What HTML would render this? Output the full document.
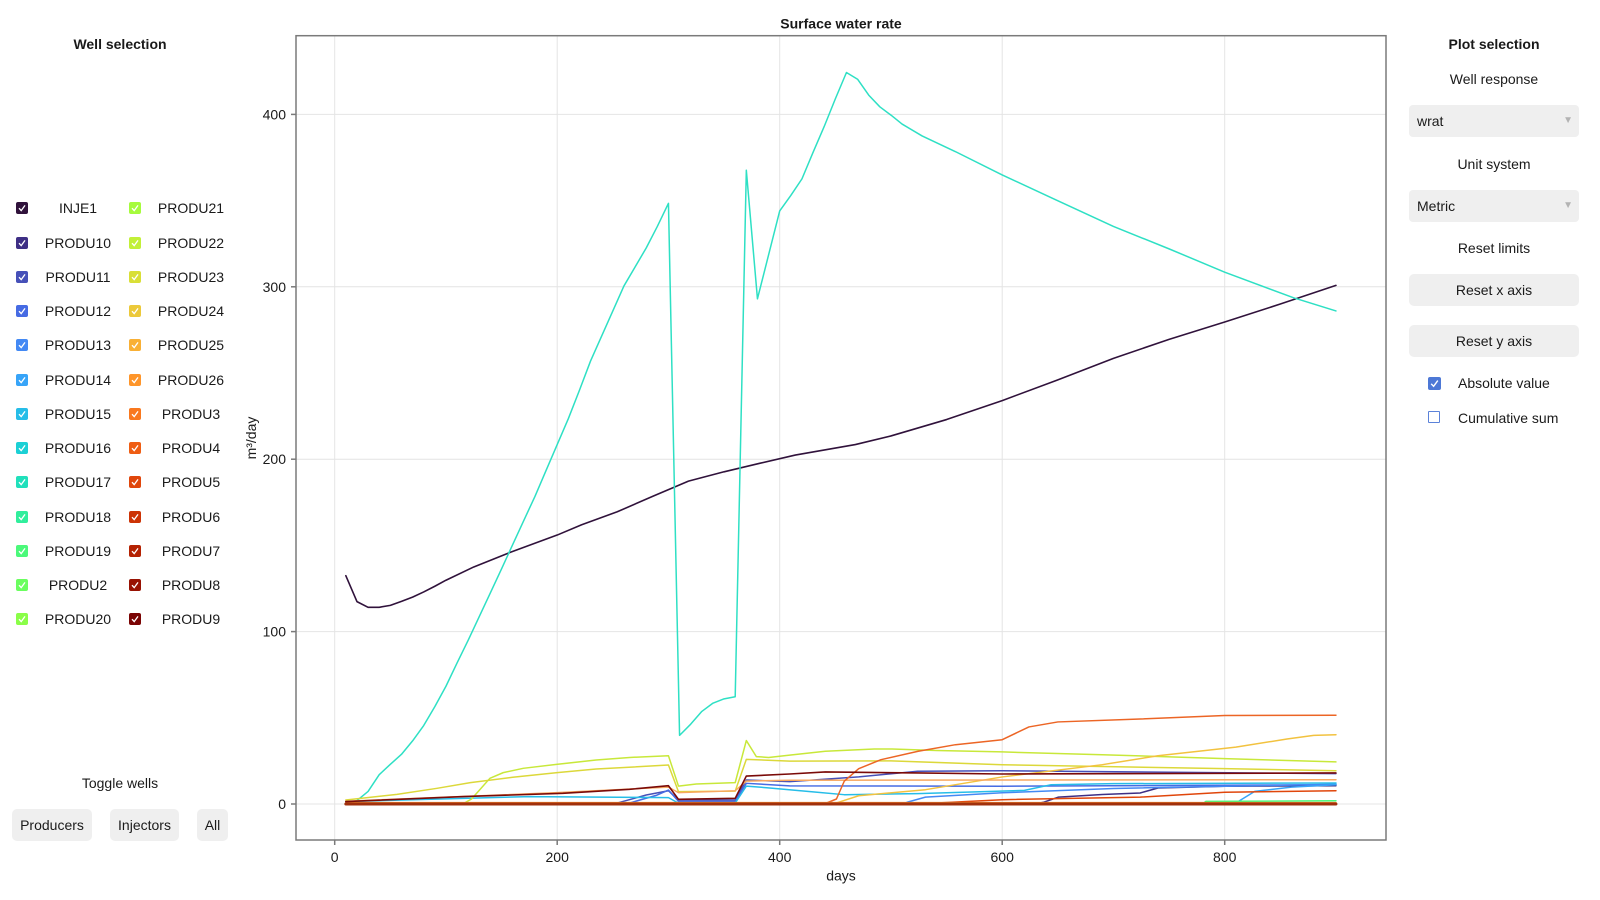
<!DOCTYPE html>
<html><head><meta charset="utf-8">
<style>
html,body{margin:0;padding:0;background:#fff;}
body{width:1600px;height:900px;position:relative;overflow:hidden;font-family:"Liberation Sans",Arial,sans-serif;color:#1a1a1a;}
.t{position:absolute;font-size:14px;line-height:16px;height:16px;white-space:nowrap;}
.b{font-weight:bold;}
.row{position:absolute;left:0;width:240px;height:16px;}
.cb{position:absolute;top:2px;width:12px;height:12px;border-radius:2px;}
.cb svg{position:absolute;left:0;top:0;}
.c1{left:16px;}.c2{left:129px;}
.lab{position:absolute;top:0;width:76px;text-align:center;font-size:14px;line-height:16px;}
.l1{left:40px;}.l2{left:153px;}
.btn{position:absolute;background:#efefef;border-radius:5px;font-size:14px;text-align:center;line-height:32px;height:32px;}
.dd{position:absolute;background:#efefef;border-radius:4px;font-size:14px;line-height:32px;height:32px;}
.arr{position:absolute;right:6px;top:0;color:#b3b3b3;font-size:10px;}
</style></head><body>

<svg width="1600" height="900" style="position:absolute;left:0;top:0" xmlns="http://www.w3.org/2000/svg">
 <g stroke="#e4e4e4" stroke-width="1">
  <line x1="334.7" y1="36" x2="334.7" y2="840"/>
  <line x1="557.2" y1="36" x2="557.2" y2="840"/>
  <line x1="779.7" y1="36" x2="779.7" y2="840"/>
  <line x1="1002.2" y1="36" x2="1002.2" y2="840"/>
  <line x1="1224.7" y1="36" x2="1224.7" y2="840"/>
  <line x1="296" y1="804" x2="1386" y2="804"/>
  <line x1="296" y1="631.6" x2="1386" y2="631.6"/>
  <line x1="296" y1="459.2" x2="1386" y2="459.2"/>
  <line x1="296" y1="286.8" x2="1386" y2="286.8"/>
  <line x1="296" y1="114.4" x2="1386" y2="114.4"/>
 </g>
 <g stroke="#7a7a7a" stroke-width="1.5">
  <line x1="291" y1="804" x2="296" y2="804"/>
  <line x1="291" y1="631.6" x2="296" y2="631.6"/>
  <line x1="291" y1="459.2" x2="296" y2="459.2"/>
  <line x1="291" y1="286.8" x2="296" y2="286.8"/>
  <line x1="291" y1="114.4" x2="296" y2="114.4"/>
  <line x1="334.7" y1="840" x2="334.7" y2="845"/>
  <line x1="557.2" y1="840" x2="557.2" y2="845"/>
  <line x1="779.7" y1="840" x2="779.7" y2="845"/>
  <line x1="1002.2" y1="840" x2="1002.2" y2="845"/>
  <line x1="1224.7" y1="840" x2="1224.7" y2="845"/>
 </g>

 <g transform="matrix(1.1125 0 0 -1.724 334.7 804)" fill="none" stroke-linejoin="round" stroke-linecap="round">
  <polyline vector-effect="non-scaling-stroke" stroke="#30123b" stroke-width="1.6" points="10,132.4 20,117.4 30,114.1 40,114.1 50,115.2 60,117.5 70,120 80,123 90,126.3 100,129.8 125,137.5 158,146 200,156 222,162 254,169.5 286,178.5 318,187.3 350,192.7 382,197.6 414,202.4 468,208.5 500,213.5 550,223 600,234 650,246 700,258.5 750,269.5 800,279.6 850,290 900,300.8"/>
  <polyline vector-effect="non-scaling-stroke" stroke="#3e2f85" stroke-width="1.5" points="10,0 630,0 637,1 650.6,4 690,5.5 724,6.4 740,9.3 800,10.3 900,10.6"/>
  <polyline vector-effect="non-scaling-stroke" stroke="#4650b8" stroke-width="1.5" points="10,0 250,0 253,0.4 280,5.2 300,7.7 309,2.3 360,2.3 370,13.9 409,13 471,15.7 524,19 600,19.3 900,17.6"/>
  <polyline vector-effect="non-scaling-stroke" stroke="#466be3" stroke-width="1.5" points="10,0 262,0 289,5 300,8.1 309,1.5 360,1.5 370,12 409,10.5 600,10.3 900,11.2"/>
  <polyline vector-effect="non-scaling-stroke" stroke="#4389f4" stroke-width="1.5" points="10,0 510,0 514.5,1 531,4 600,6.5 700,9 900,11.5"/>
  <polyline vector-effect="non-scaling-stroke" stroke="#37a4f8" stroke-width="1.5" points="10,0 805,0 810,0.6 827,7.3 860,9.8 900,11.2"/>
  <polyline vector-effect="non-scaling-stroke" stroke="#26bde8" stroke-width="1.5" points="10,1.4 175,4.3 300,3.7 309,0.5 360,0.5 370,10.4 391,9.3 430,7 458,5.4 524,6 620,7.9 644,11.2 700,11.8 900,12.2"/>
  <polyline vector-effect="non-scaling-stroke" stroke="#2ee0c4" stroke-width="1.5" points="10,0.5 20,2 30,7.3 40,17 50,23 60,28.8 70,36.6 80,45.5 90,56.5 100,68.3 110,81.8 120,95 130,108.8 140,122.6 150,136.4 160,150.5 170,164.5 180,178.4 190,193.5 200,208.5 210,223.5 220,240 230,257 240,271.5 250,286 260,300.5 270,311.5 280,322.5 290,335 300,348.4 310,39.8 320,46.3 330,53.7 340,58.5 350,61 360,62.2 370,367.6 380,293 400,344 410,353 420,362.6 430,378 440,393 450,409 460,424.3 470,420.4 480,411.2 490,404.4 500,399.6 510,394.4 528,387.5 558,378.4 600,364.9 645,351.4 700,335 750,322 800,308.5 862,293.6 900,286"/>
  <polyline vector-effect="non-scaling-stroke" stroke="#4bf97a" stroke-width="1.5" points="10,0 780,0 783,1.5 900,1.9"/>
  <polyline vector-effect="non-scaling-stroke" stroke="#c8e83a" stroke-width="1.5" points="10,0 115,0 123,2.9 130,8 139.5,14.9 151.5,18.2 169.5,20.7 199.4,23 235,25.5 265,27 300,28 309,10.4 325,11.6 360,12.4 370,36.8 379,27.5 390,27 410,28.4 441,30.6 485,31.9 501,31.9 541,31 600,30.2 690,28.6 800,26.3 900,24.4"/>
  <polyline vector-effect="non-scaling-stroke" stroke="#dcd83a" stroke-width="1.5" points="10,2.3 56,5.6 92,9.1 122,12.4 160,15.5 200,18.2 235,20.3 300,22.6 309,7.2 360,7.5 370,25.9 409,24.9 500,25 600,22.8 800,20.5 900,19.3"/>
  <polyline vector-effect="non-scaling-stroke" stroke="#f2c23f" stroke-width="1.5" points="10,0 445,0 451,0.6 471,4.8 531,8.3 600,15.7 690,22.8 740,28 810,33 856,37.7 880,39.8 900,40.2"/>
  <polyline vector-effect="non-scaling-stroke" stroke="#f8a860" stroke-width="1.5" points="10,1.6 200,6.6 300,9.8 309,6.6 360,7.7 370,13.3 409,13.8 900,14.1"/>
  <polyline vector-effect="non-scaling-stroke" stroke="#ec6525" stroke-width="1.5" points="10,0 440,0 451,2.9 458,13.2 471,20.5 491,25.7 524.5,30.6 558,34.4 600,37.3 624,44.7 650,47.6 724,49.3 800,51.3 900,51.5"/>
  <polyline vector-effect="non-scaling-stroke" stroke="#e0460b" stroke-width="1.5" points="10,0 535,0 541,0.6 600,2.5 724,4 800,6.8 900,7.7"/>
  <polyline vector-effect="non-scaling-stroke" stroke="#f08a30" stroke-width="1.5" points="10,0.8 900,0.8"/>
  <polyline vector-effect="non-scaling-stroke" stroke="#a0300c" stroke-width="3" points="10,0 900,0"/>
  <polyline vector-effect="non-scaling-stroke" stroke="#7a0a08" stroke-width="1.6" points="10,1.4 116,4.3 205,6.2 265,8.5 300,10.6 309,2.7 360,3.3 370,16.2 409,17.4 441,18.6 524,18 600,17.4 900,18"/>
 </g>

 <rect x="296" y="35.7" width="1090" height="804.3" fill="none" stroke="#7a7a7a" stroke-width="1.5"/>

 <g font-family="Liberation Sans, Arial, sans-serif" font-size="14" fill="#1a1a1a">
  <text x="286" y="809" text-anchor="end">0</text>
  <text x="286" y="636.6" text-anchor="end">100</text>
  <text x="286" y="464.2" text-anchor="end">200</text>
  <text x="286" y="291.8" text-anchor="end">300</text>
  <text x="286" y="119.4" text-anchor="end">400</text>
  <text x="334.7" y="862" text-anchor="middle">0</text>
  <text x="557.2" y="862" text-anchor="middle">200</text>
  <text x="779.7" y="862" text-anchor="middle">400</text>
  <text x="1002.2" y="862" text-anchor="middle">600</text>
  <text x="1224.7" y="862" text-anchor="middle">800</text>
  <text x="841" y="880.5" text-anchor="middle">days</text>
  <text x="256" y="438" text-anchor="middle" transform="rotate(-90 256 438)">m³/day</text>
  <text x="841" y="28.5" text-anchor="middle" font-weight="bold">Surface water rate</text>
 </g>
</svg>

<!-- Left panel -->
<div class="t b" style="left:0;width:240px;text-align:center;top:36px;">Well selection</div>

<div class="row" style="top:200.3px"><div class="cb c1" style="background:#30123b"><svg width="12" height="12"><polyline points="3,6.2 5.2,8.6 9,3.4" fill="none" stroke="#fff" stroke-width="1.3"/></svg></div><div class="lab l1">INJE1</div><div class="cb c2" style="background:#a6fb3d"><svg width="12" height="12"><polyline points="3,6.2 5.2,8.6 9,3.4" fill="none" stroke="#fff" stroke-width="1.3"/></svg></div><div class="lab l2">PRODU21</div></div>
<div class="row" style="top:234.55px"><div class="cb c1" style="background:#3e2f85"><svg width="12" height="12"><polyline points="3,6.2 5.2,8.6 9,3.4" fill="none" stroke="#fff" stroke-width="1.3"/></svg></div><div class="lab l1">PRODU10</div><div class="cb c2" style="background:#c2f038"><svg width="12" height="12"><polyline points="3,6.2 5.2,8.6 9,3.4" fill="none" stroke="#fff" stroke-width="1.3"/></svg></div><div class="lab l2">PRODU22</div></div>
<div class="row" style="top:268.8px"><div class="cb c1" style="background:#4650b8"><svg width="12" height="12"><polyline points="3,6.2 5.2,8.6 9,3.4" fill="none" stroke="#fff" stroke-width="1.3"/></svg></div><div class="lab l1">PRODU11</div><div class="cb c2" style="background:#d9df37"><svg width="12" height="12"><polyline points="3,6.2 5.2,8.6 9,3.4" fill="none" stroke="#fff" stroke-width="1.3"/></svg></div><div class="lab l2">PRODU23</div></div>
<div class="row" style="top:303.05px"><div class="cb c1" style="background:#466be3"><svg width="12" height="12"><polyline points="3,6.2 5.2,8.6 9,3.4" fill="none" stroke="#fff" stroke-width="1.3"/></svg></div><div class="lab l1">PRODU12</div><div class="cb c2" style="background:#ecc93a"><svg width="12" height="12"><polyline points="3,6.2 5.2,8.6 9,3.4" fill="none" stroke="#fff" stroke-width="1.3"/></svg></div><div class="lab l2">PRODU24</div></div>
<div class="row" style="top:337.3px"><div class="cb c1" style="background:#4389f4"><svg width="12" height="12"><polyline points="3,6.2 5.2,8.6 9,3.4" fill="none" stroke="#fff" stroke-width="1.3"/></svg></div><div class="lab l1">PRODU13</div><div class="cb c2" style="background:#f9b035"><svg width="12" height="12"><polyline points="3,6.2 5.2,8.6 9,3.4" fill="none" stroke="#fff" stroke-width="1.3"/></svg></div><div class="lab l2">PRODU25</div></div>
<div class="row" style="top:371.55px"><div class="cb c1" style="background:#37a4f8"><svg width="12" height="12"><polyline points="3,6.2 5.2,8.6 9,3.4" fill="none" stroke="#fff" stroke-width="1.3"/></svg></div><div class="lab l1">PRODU14</div><div class="cb c2" style="background:#fe952a"><svg width="12" height="12"><polyline points="3,6.2 5.2,8.6 9,3.4" fill="none" stroke="#fff" stroke-width="1.3"/></svg></div><div class="lab l2">PRODU26</div></div>
<div class="row" style="top:405.8px"><div class="cb c1" style="background:#26bde8"><svg width="12" height="12"><polyline points="3,6.2 5.2,8.6 9,3.4" fill="none" stroke="#fff" stroke-width="1.3"/></svg></div><div class="lab l1">PRODU15</div><div class="cb c2" style="background:#f9781e"><svg width="12" height="12"><polyline points="3,6.2 5.2,8.6 9,3.4" fill="none" stroke="#fff" stroke-width="1.3"/></svg></div><div class="lab l2">PRODU3</div></div>
<div class="row" style="top:440.05px"><div class="cb c1" style="background:#1cd0d5"><svg width="12" height="12"><polyline points="3,6.2 5.2,8.6 9,3.4" fill="none" stroke="#fff" stroke-width="1.3"/></svg></div><div class="lab l1">PRODU16</div><div class="cb c2" style="background:#ef5d13"><svg width="12" height="12"><polyline points="3,6.2 5.2,8.6 9,3.4" fill="none" stroke="#fff" stroke-width="1.3"/></svg></div><div class="lab l2">PRODU4</div></div>
<div class="row" style="top:474.3px"><div class="cb c1" style="background:#20e0bb"><svg width="12" height="12"><polyline points="3,6.2 5.2,8.6 9,3.4" fill="none" stroke="#fff" stroke-width="1.3"/></svg></div><div class="lab l1">PRODU17</div><div class="cb c2" style="background:#e0460b"><svg width="12" height="12"><polyline points="3,6.2 5.2,8.6 9,3.4" fill="none" stroke="#fff" stroke-width="1.3"/></svg></div><div class="lab l2">PRODU5</div></div>
<div class="row" style="top:508.55px"><div class="cb c1" style="background:#30ee9c"><svg width="12" height="12"><polyline points="3,6.2 5.2,8.6 9,3.4" fill="none" stroke="#fff" stroke-width="1.3"/></svg></div><div class="lab l1">PRODU18</div><div class="cb c2" style="background:#cc3305"><svg width="12" height="12"><polyline points="3,6.2 5.2,8.6 9,3.4" fill="none" stroke="#fff" stroke-width="1.3"/></svg></div><div class="lab l2">PRODU6</div></div>
<div class="row" style="top:542.8px"><div class="cb c1" style="background:#4bf97a"><svg width="12" height="12"><polyline points="3,6.2 5.2,8.6 9,3.4" fill="none" stroke="#fff" stroke-width="1.3"/></svg></div><div class="lab l1">PRODU19</div><div class="cb c2" style="background:#b42202"><svg width="12" height="12"><polyline points="3,6.2 5.2,8.6 9,3.4" fill="none" stroke="#fff" stroke-width="1.3"/></svg></div><div class="lab l2">PRODU7</div></div>
<div class="row" style="top:577.05px"><div class="cb c1" style="background:#6afe5f"><svg width="12" height="12"><polyline points="3,6.2 5.2,8.6 9,3.4" fill="none" stroke="#fff" stroke-width="1.3"/></svg></div><div class="lab l1">PRODU2</div><div class="cb c2" style="background:#981203"><svg width="12" height="12"><polyline points="3,6.2 5.2,8.6 9,3.4" fill="none" stroke="#fff" stroke-width="1.3"/></svg></div><div class="lab l2">PRODU8</div></div>
<div class="row" style="top:611.3px"><div class="cb c1" style="background:#8afe48"><svg width="12" height="12"><polyline points="3,6.2 5.2,8.6 9,3.4" fill="none" stroke="#fff" stroke-width="1.3"/></svg></div><div class="lab l1">PRODU20</div><div class="cb c2" style="background:#7a0403"><svg width="12" height="12"><polyline points="3,6.2 5.2,8.6 9,3.4" fill="none" stroke="#fff" stroke-width="1.3"/></svg></div><div class="lab l2">PRODU9</div></div>

<div class="t" style="left:0;width:240px;text-align:center;top:775px;">Toggle wells</div>
<div class="btn" style="left:12px;top:809px;width:80px;">Producers</div>
<div class="btn" style="left:110px;top:809px;width:69px;">Injectors</div>
<div class="btn" style="left:197px;top:809px;width:31px;">All</div>

<!-- Right panel -->
<div class="t b" style="left:1409px;width:170px;text-align:center;top:36px;">Plot selection</div>
<div class="t" style="left:1409px;width:170px;text-align:center;top:71px;">Well response</div>
<div class="dd" style="left:1409px;top:105px;width:170px;"><span style="position:absolute;left:8px;">wrat</span><span class="arr">▼</span></div>
<div class="t" style="left:1409px;width:170px;text-align:center;top:156px;">Unit system</div>
<div class="dd" style="left:1409px;top:190px;width:170px;"><span style="position:absolute;left:8px;">Metric</span><span class="arr">▼</span></div>
<div class="t" style="left:1409px;width:170px;text-align:center;top:240px;">Reset limits</div>
<div class="btn" style="left:1409px;top:274px;width:170px;">Reset x axis</div>
<div class="btn" style="left:1409px;top:325px;width:170px;">Reset y axis</div>

<div style="position:absolute;left:1428px;top:377px;width:13px;height:13px;background:#4d78d6;border-radius:2px;"><svg width="13" height="13" style="position:absolute;left:0;top:0"><polyline points="3.2,6.8 5.6,9.3 9.8,3.6" fill="none" stroke="#fff" stroke-width="1.4"/></svg></div>
<div class="t" style="left:1458px;top:375px;">Absolute value</div>
<div style="position:absolute;left:1428px;top:411px;width:10px;height:10px;border:1.5px solid #5b82d9;border-radius:1px;"></div>
<div class="t" style="left:1458px;top:409.5px;">Cumulative sum</div>

</body></html>
